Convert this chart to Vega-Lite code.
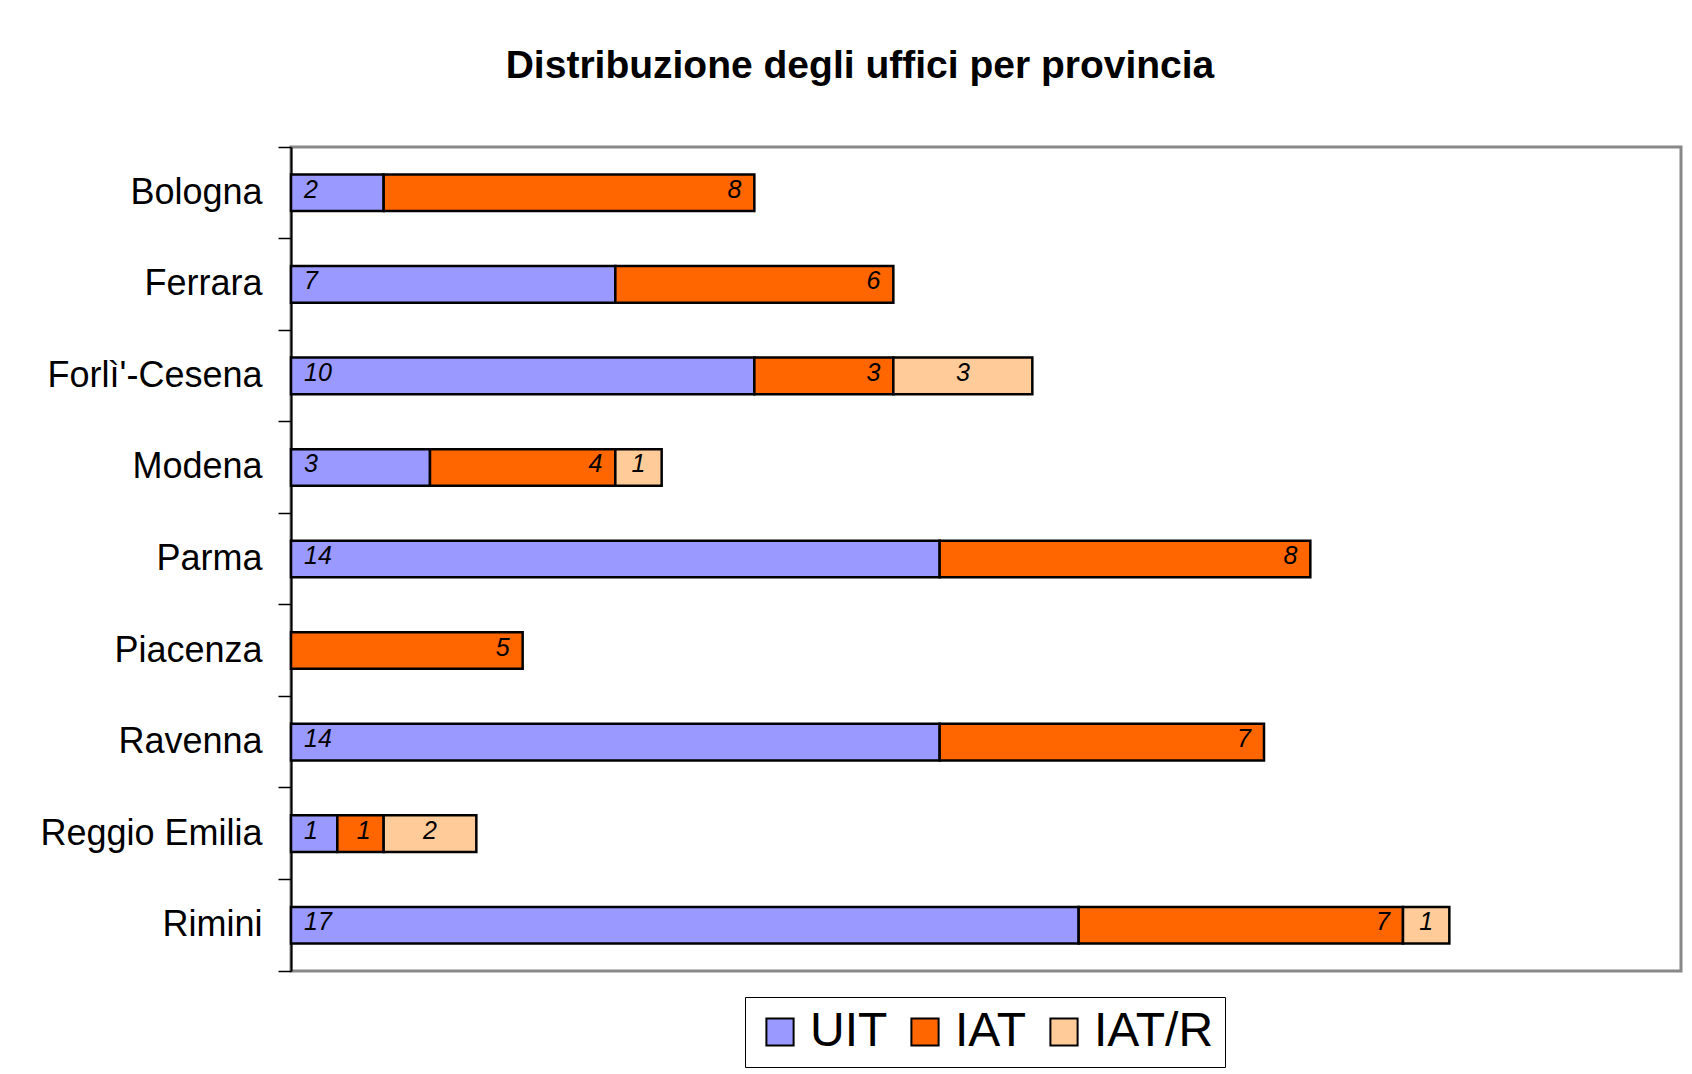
{
  "$schema": "https://vega.github.io/schema/vega-lite/v6.json",
  "width": 1390,
  "height": 824,
  "autosize": {"type": "none"},
  "padding": {"left": 291, "top": 147, "right": 11, "bottom": 103},
  "background": "white",
  "config": {"view": {"stroke": "#888888", "strokeWidth": 3}},
  "title": {
    "text": "Distribuzione degli uffici per provincia",
    "font": "Liberation Sans",
    "fontSize": 39,
    "fontWeight": "bold",
    "color": "black",
    "anchor": "middle",
    "frame": "group",
    "dx": -126,
    "offset": 12,
    "baseline": "alphabetic"
  },
  "data": {
    "values": [
      {"province": "Bologna", "type": "UIT", "ord": 1, "value": 2},
      {"province": "Bologna", "type": "IAT", "ord": 2, "value": 8},
      {"province": "Ferrara", "type": "UIT", "ord": 1, "value": 7},
      {"province": "Ferrara", "type": "IAT", "ord": 2, "value": 6},
      {"province": "Forlì'-Cesena", "type": "UIT", "ord": 1, "value": 10},
      {"province": "Forlì'-Cesena", "type": "IAT", "ord": 2, "value": 3},
      {"province": "Forlì'-Cesena", "type": "IAT/R", "ord": 3, "value": 3},
      {"province": "Modena", "type": "UIT", "ord": 1, "value": 3},
      {"province": "Modena", "type": "IAT", "ord": 2, "value": 4},
      {"province": "Modena", "type": "IAT/R", "ord": 3, "value": 1},
      {"province": "Parma", "type": "UIT", "ord": 1, "value": 14},
      {"province": "Parma", "type": "IAT", "ord": 2, "value": 8},
      {"province": "Piacenza", "type": "IAT", "ord": 2, "value": 5},
      {"province": "Ravenna", "type": "UIT", "ord": 1, "value": 14},
      {"province": "Ravenna", "type": "IAT", "ord": 2, "value": 7},
      {"province": "Reggio Emilia", "type": "UIT", "ord": 1, "value": 1},
      {"province": "Reggio Emilia", "type": "IAT", "ord": 2, "value": 1},
      {"province": "Reggio Emilia", "type": "IAT/R", "ord": 3, "value": 2},
      {"province": "Rimini", "type": "UIT", "ord": 1, "value": 17},
      {"province": "Rimini", "type": "IAT", "ord": 2, "value": 7},
      {"province": "Rimini", "type": "IAT/R", "ord": 3, "value": 1}
    ]
  },
  "transform": [
    {"stack": "value", "groupby": ["province"], "sort": [{"field": "ord", "order": "ascending"}], "as": ["start", "end"]}
  ],
  "encoding": {
    "y": {
      "field": "province",
      "type": "nominal",
      "sort": ["Bologna", "Ferrara", "Forlì'-Cesena", "Modena", "Parma", "Piacenza", "Ravenna", "Reggio Emilia", "Rimini"],
      "scale": {"paddingInner": 0, "paddingOuter": 0},
      "axis": {
        "title": null,
        "bandPosition": 1,
        "tickExtra": true,
        "labelOffset": 0,
        "tickSize": 13,
        "tickColor": "black",
        "tickWidth": 1.5,
        "domainColor": "black",
        "domainWidth": 2,
        "labelFont": "Liberation Sans",
        "labelFontSize": 36,
        "labelColor": "black",
        "labelPadding": 16,
        "labelLimit": 0,
        "labelBound": false,
        "labelOverlap": false,
        "grid": false
      }
    }
  },
  "layer": [
    {
      "mark": {"type": "bar", "height": {"band": 0.4}, "stroke": "black", "strokeWidth": 2.5, "opacity": 1},
      "encoding": {
        "x": {"field": "start", "type": "quantitative", "scale": {"domain": [0, 30], "nice": false, "zero": true}, "axis": null},
        "x2": {"field": "end"},
        "color": {
          "field": "type",
          "type": "nominal",
          "scale": {"domain": ["UIT", "IAT", "IAT/R"], "range": ["#9999FF", "#FF6600", "#FFCC99"]},
          "legend": {
            "orient": "none",
            "legendX": 454,
            "legendY": 850,
            "direction": "horizontal",
            "title": null,
            "symbolType": "square",
            "symbolSize": 740,
            "symbolStrokeColor": "black",
            "symbolStrokeWidth": 2,
            "symbolOpacity": 1,
            "labelFont": "Liberation Sans",
            "labelFontSize": 48,
            "labelColor": "black",
            "labelOffset": 6,
            "labelLimit": 0,
            "columnPadding": 13,
            "padding": 11,
            "strokeColor": "black"
          }
        }
      }
    },
    {
      "transform": [{"filter": {"field": "type", "equal": "UIT"}}],
      "mark": {"type": "text", "align": "left", "dx": 13, "dy": -3, "font": "Liberation Sans", "fontSize": 25, "fontStyle": "italic", "color": "black"},
      "encoding": {
        "x": {"field": "start", "type": "quantitative"},
        "text": {"field": "value", "type": "quantitative"}
      }
    },
    {
      "transform": [{"filter": {"field": "type", "equal": "IAT"}}],
      "mark": {"type": "text", "align": "right", "dx": -13, "dy": -3, "font": "Liberation Sans", "fontSize": 25, "fontStyle": "italic", "color": "black"},
      "encoding": {
        "x": {"field": "end", "type": "quantitative"},
        "text": {"field": "value", "type": "quantitative"}
      }
    },
    {
      "transform": [
        {"filter": {"field": "type", "equal": "IAT/R"}},
        {"fold": ["start", "end"], "as": ["edge", "pos"]}
      ],
      "mark": {"type": "text", "align": "center", "dy": -3, "font": "Liberation Sans", "fontSize": 25, "fontStyle": "italic", "color": "black"},
      "encoding": {
        "x": {"field": "pos", "aggregate": "mean", "type": "quantitative"},
        "text": {"field": "value", "type": "quantitative"}
      }
    }
  ]
}
